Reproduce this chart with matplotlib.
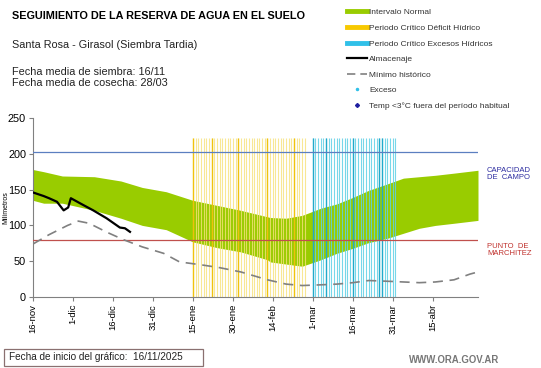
import numpy as np
import matplotlib.pyplot as plt
from matplotlib.lines import Line2D
from matplotlib.patches import Rectangle

plt.rcParams['font.family'] = ['Liberation Sans', 'DejaVu Sans']

# days since 16-nov
band_days = [0, 4, 11, 23, 33, 41, 50, 60, 69, 78, 88, 89, 95, 101, 108, 114, 120, 126, 133, 139, 145, 151, 158, 167]
band_upper = [178, 175, 169, 168, 162, 153, 147, 135, 128, 121, 112, 111, 110, 114, 124, 130, 139, 149, 158, 166, 168, 170, 173, 177]
band_lower = [135, 131, 131, 121, 110, 100, 94, 77, 69, 63, 52, 49, 46, 43, 52, 61, 68, 76, 82, 89, 96, 100, 103, 107]

alm_days = [0, 4, 6, 9, 11.5, 13.2, 14.2, 17.6, 22.6, 27.6, 32.6, 34.5, 36.4]
alm_vals = [146, 141, 138, 133, 121, 125, 138, 131, 121, 110, 97, 96, 91]

min_days = [0, 6, 13, 17, 21, 28, 34, 41, 49, 55, 63, 70, 78, 88, 95, 101, 108, 114, 120, 126, 133, 139, 145, 151, 158, 164, 167]
min_vals = [74, 87, 100, 106, 103, 90, 80, 70, 61, 49, 45, 41, 35, 24, 18, 16, 17, 18, 20, 23, 22, 21, 20, 21, 24, 32, 35]

deficit_days = np.arange(60, 103)
deficit_strong = [60, 67, 77, 88, 98]
excess_days = np.arange(105, 137)
excess_strong = [105, 110, 120, 130, 131]

capacidad = 202
marchitez = 80

tick_days = [0, 15, 30, 45, 60, 75, 90, 105, 120, 135, 150]
tick_labels = ['16-nov', '1-dic', '16-dic', '31-dic', '15-ene', '30-ene', '14-feb',
               '1-mar', '16-mar', '31-mar', '15-abr']

W, H = 541, 368
fig = plt.figure(figsize=(W/100, H/100), dpi=100)
ax = fig.add_axes([33/W, 1-297/H, 445/W, 179/H])

ax.fill_between(band_days, band_lower, band_upper, color='#99cc00', lw=0, zorder=1)

ax.vlines(deficit_days, 0, 222, color='#f7e27a', lw=0.8, alpha=0.8, zorder=2)
ax.vlines(deficit_strong, 0, 222, color='#f0c000', lw=1.0, alpha=0.9, zorder=2)
ax.vlines(excess_days, 0, 222, color='#5fd0e6', lw=0.8, alpha=0.85, zorder=2)
ax.vlines(excess_strong, 0, 222, color='#19a5c8', lw=1.0, alpha=0.9, zorder=2)

ax.axhline(capacidad, color='#5b7fc0', lw=0.9, zorder=3)
ax.axhline(marchitez, color='#c0504d', lw=0.9, zorder=3)

ax.plot(min_days, min_vals, color='#808080', lw=1.2, dashes=(6, 4), zorder=4)
ax.plot(alm_days, alm_vals, color='black', lw=1.6, zorder=5)

ax.set_xlim(0, 167)
ax.set_ylim(0, 250)
ax.set_yticks([0, 50, 100, 150, 200, 250])
ax.set_xticks(tick_days)
ax.set_xticklabels(tick_labels, rotation=90, fontsize=6.8)
ax.tick_params(axis='y', labelsize=7.8, length=3, color='#808080', pad=2)
ax.tick_params(axis='x', length=3, color='#808080', pad=2)
for s in ['top', 'right']:
    ax.spines[s].set_visible(False)
for s in ['left', 'bottom']:
    ax.spines[s].set_color('#808080')
ax.set_ylabel('Milímetros', fontsize=5, labelpad=-1)

fig.text(487/W, 1-174/H, 'CAPACIDAD\nDE  CAMPO', color='#2c2ca0', fontsize=5.5,
         va='center', linespacing=1.1)
fig.text(487/W, 1-250/H, 'PUNTO  DE\nMARCHITEZ', color='#c0302c', fontsize=5.5,
         va='center', linespacing=1.1)

fig.text(12/W, 1-16/H, 'SEGUIMIENTO DE LA RESERVA DE AGUA EN EL SUELO',
         fontsize=7.8, fontweight='bold', va='center')
fig.text(12/W, 1-45/H, 'Santa Rosa - Girasol (Siembra Tardia)', fontsize=7.8, va='center', color='#222222')
fig.text(12/W, 1-72/H, 'Fecha media de siembra: 16/11', fontsize=7.8, va='center', color='#222222')
fig.text(12/W, 1-83/H, 'Fecha media de cosecha: 28/03', fontsize=7.8, va='center', color='#222222')

handles = [
    Line2D([], [], color='#99cc00', lw=3.5),
    Line2D([], [], color='#f7c900', lw=3.5),
    Line2D([], [], color='#30c0e8', lw=3.5),
    Line2D([], [], color='black', lw=1.6),
    Line2D([], [], color='#808080', lw=1.2, dashes=(5, 3)),
    Line2D([], [], color='#30c0e8', ls='none', marker='o', ms=1.5),
    Line2D([], [], color='#1f1fa0', ls='none', marker='D', ms=2),
]
labels = ['Intervalo Normal', 'Periodo Crítico Déficit Hídrico', 'Periodo Crítico Excesos Hídricos',
          'Almacenaje', 'Mínimo histórico', 'Exceso', 'Temp <3°C fuera del período habitual']
leg = fig.legend(handles, labels, loc='upper left', bbox_to_anchor=(347/W, 1-8.5/H),
                 frameon=False, fontsize=6.0, handlelength=2.4, handletextpad=0.25,
                 labelspacing=0.93, borderpad=0, borderaxespad=0)
for t in leg.get_texts():
    t.set_color('#333333')

fig.patches.append(Rectangle((3.5/W, 1-366/H), 199.5/W, 17/H, transform=fig.transFigure,
                             facecolor='white', edgecolor='#8a7070', lw=0.9))
fig.text(9/W, 1-357.5/H, 'Fecha de inicio del gráfico:  16/11/2025', fontsize=7.2, va='center',
         color='#222222')
fig.text(499/W, 1-360/H, 'WWW.ORA.GOV.AR', fontsize=6.9, fontweight='bold', color='#777777',
         ha='right', va='center')

fig.savefig('out.png', dpi=100)
